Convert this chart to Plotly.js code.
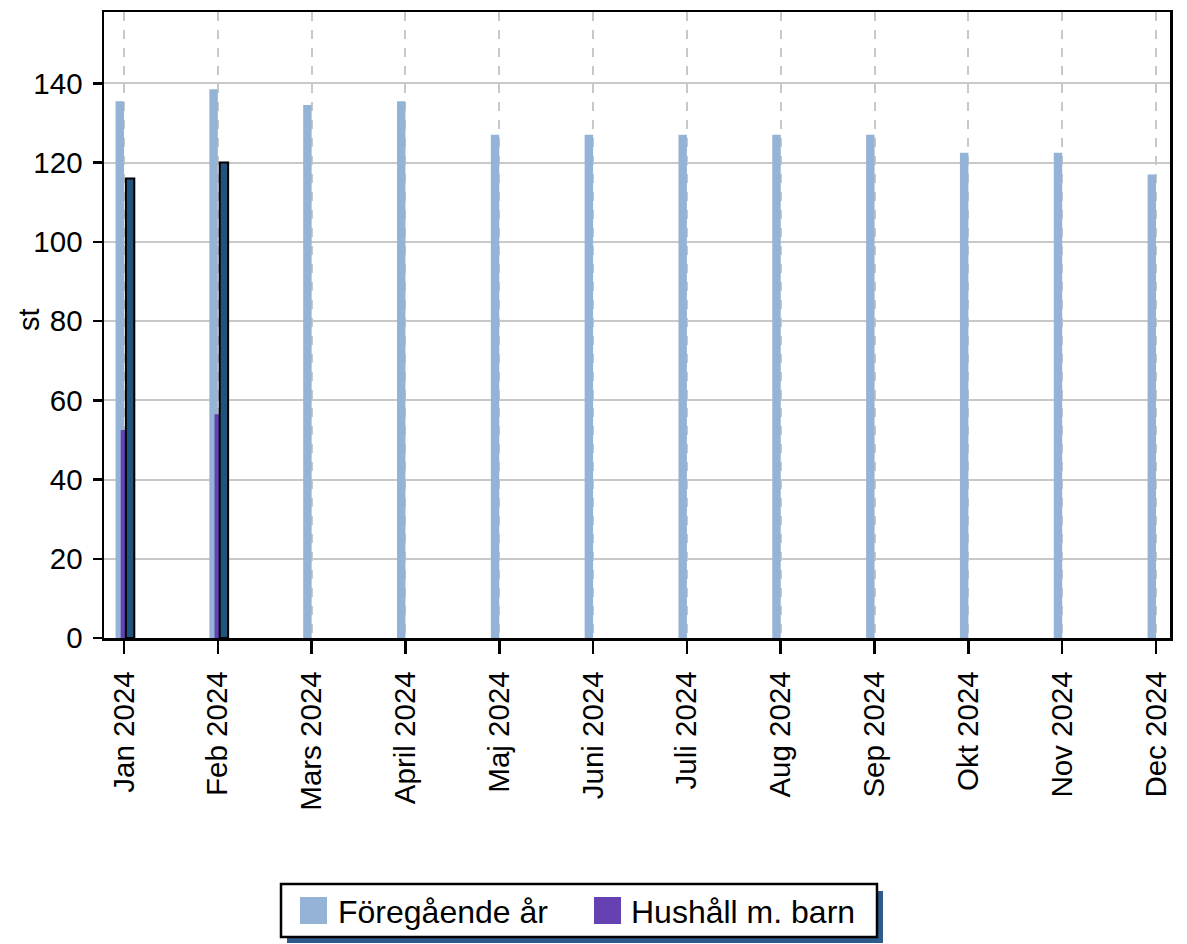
<!DOCTYPE html>
<html>
<head>
<meta charset="utf-8">
<script src="https://cdn.plot.ly/plotly-3.0.1.min.js"></script>
<style>html,body{margin:0;padding:0;background:#fff;}#chart{width:1187px;height:944px;}</style>
</head>
<body>
<div id="chart"></div>
<script>
// Data
var months = ["Jan 2024","Feb 2024","Mars 2024","April 2024","Maj 2024","Juni 2024","Juli 2024","Aug 2024","Sep 2024","Okt 2024","Nov 2024","Dec 2024"];
var seriesNames = ["Föregående år", "Hushåll m. barn"];
var foregaendeAr = [135.5, 138.5, 134.5, 135.5, 127, 127, 127, 127, 127, 122.5, 122.5, 117];
var hushallMBarn = [52.5, 56.5, null, null, null, null, null, null, null, null, null, null];
var totalt = [116, 120, null, null, null, null, null, null, null, null, null, null];
var yTitle = "st";

var FONT = "Liberation Sans, Arial, sans-serif";
var colPrev = "#95b3d7", colBarn = "#6541b2", colTot = "#21537f";

var traces = [
  {type:"bar", x: months, y: foregaendeAr, name: seriesNames[0], marker:{color: colPrev}, offset:-0.09, width:0.09, showlegend:false},
  {type:"bar", x: months, y: hushallMBarn, name: seriesNames[1], marker:{color: colBarn}, offset:-0.035, width:0.056, showlegend:false},
  {type:"bar", x: months, y: totalt, name: "Totalt", marker:{color: colTot, line:{color:"#000", width:2}}, offset:0.02, width:0.09, showlegend:false}
];

function px2x(p){ return (p - 104) / 1066; }
function px2y(p){ return (638 - p) / 626; }

var shapes = [
  {type:"rect", xref:"paper", yref:"paper", x0:px2x(287), x1:px2x(883), y0:px2y(891), y1:px2y(943), fillcolor:"#2e5b8c", line:{width:0}},
  {type:"rect", xref:"paper", yref:"paper", x0:px2x(281), x1:px2x(877), y0:px2y(884), y1:px2y(937), fillcolor:"#ffffff", line:{color:"#000", width:2.5}},
  {type:"rect", xref:"paper", yref:"paper", x0:px2x(300), x1:px2x(327), y0:px2y(897), y1:px2y(924), fillcolor:colPrev, line:{width:0}},
  {type:"rect", xref:"paper", yref:"paper", x0:px2x(594), x1:px2x(621), y0:px2y(897), y1:px2y(924), fillcolor:colBarn, line:{width:0}}
];
var annotations = [
  {xref:"paper", yref:"paper", x:px2x(336), y:px2y(912), xanchor:"left", yanchor:"middle", text:seriesNames[0], showarrow:false, font:{family:FONT, size:32, color:"#000"}},
  {xref:"paper", yref:"paper", x:px2x(629), y:px2y(912), xanchor:"left", yanchor:"middle", text:seriesNames[1], showarrow:false, font:{family:FONT, size:32, color:"#000"}},
  {xref:"paper", yref:"paper", x:px2x(29), y:px2y(320), xanchor:"center", yanchor:"middle", textangle:-90, text:yTitle, showarrow:false, font:{family:FONT, size:29, color:"#000"}}
];

var layout = {
  width:1187, height:944,
  margin:{l:104, r:17, t:12, b:306},
  paper_bgcolor:"#fff", plot_bgcolor:"#fff",
  barmode:"overlay",
  showlegend:false,
  font:{family:FONT, size:29, color:"#000"},
  xaxis:{
    type:"category", range:[-0.213, 11.149],
    tickangle:-90, tickfont:{family:FONT, size:29.5, color:"#000"},
    ticks:"outside", ticklen:13, tickwidth:2.5, tickcolor:"#000",
    ticklabelstandoff:6,
    showline:true, linecolor:"#000", linewidth:2.5, mirror:true,
    showgrid:true, gridcolor:"#c8c8c8", gridwidth:2, griddash:"dash",
    zeroline:false
  },
  yaxis:{
    range:[0, 158], dtick:20, tick0:0,
    tickfont:{family:FONT, size:29.5, color:"#000"},
    ticks:"outside", ticklen:9, tickwidth:2.5, tickcolor:"#000",
    ticklabelstandoff:4,
    showline:true, linecolor:"#000", linewidth:2.5, mirror:true,
    showgrid:true, gridcolor:"#c8c8c8", gridwidth:2,
    zeroline:false
  },
  shapes:shapes,
  annotations:annotations
};

Plotly.newPlot("chart", traces, layout, {displayModeBar:false, staticPlot:true});
</script>
</body>
</html>
